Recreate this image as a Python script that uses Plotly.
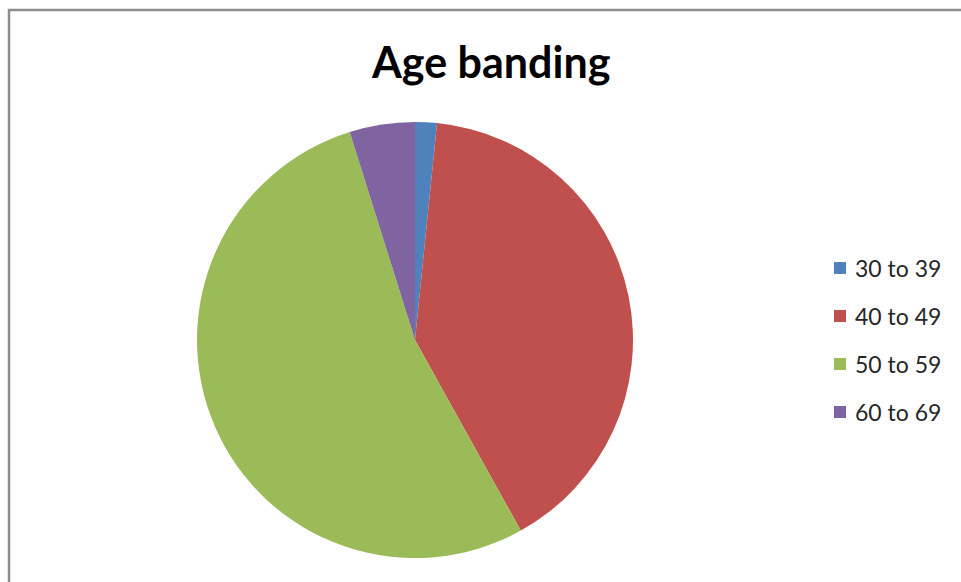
import plotly.graph_objects as go

# Age band counts
bands = ["30 to 39", "40 to 49", "50 to 59", "60 to 69"]
counts = [1, 25, 33, 3]
colors = ["#4F81BD", "#C0504D", "#9BBB59", "#8064A2"]

W, H = 961, 582

fig = go.Figure()
fig.add_trace(go.Pie(
    labels=bands,
    values=counts,
    sort=False,
    direction="clockwise",
    rotation=0,
    marker=dict(colors=colors, line=dict(width=0)),
    textinfo="none",
    hoverinfo="label+value+percent",
    showlegend=False,
    domain=dict(x=[197 / W, 633 / W], y=[(H - 558) / H, (H - 122) / H]),
))

# Legend drawn as colour squares with labels
shapes = []
annotations = []
row0, gap = 268, 48
for i, (lab, col) in enumerate(zip(bands, colors)):
    yc = row0 + i * gap
    shapes.append(dict(type="rect", xref="paper", yref="paper",
                       x0=834 / W, x1=846 / W,
                       y0=(H - yc - 6) / H, y1=(H - yc + 6) / H,
                       fillcolor=col, line=dict(width=0)))
    annotations.append(dict(text=lab, xref="paper", yref="paper",
                            x=853 / W, y=(H - yc) / H, xanchor="left", yanchor="middle",
                            showarrow=False,
                            font=dict(family="Lato", size=23, color="#262626")))

# Chart frame
shapes.append(dict(type="rect", xref="paper", yref="paper",
                   x0=9 / W, x1=1.05, y0=-0.05, y1=(H - 10) / H,
                   line=dict(color="#8C8C8C", width=2.5), fillcolor="rgba(0,0,0,0)"))

annotations.append(dict(text="<b>Age banding</b>", xref="paper", yref="paper",
                        x=490 / W, y=(H - 62) / H, xanchor="center", yanchor="middle",
                        showarrow=False,
                        font=dict(family="Lato", size=43, color="#000000")))

fig.update_layout(
    width=W, height=H,
    margin=dict(l=0, r=0, t=0, b=0),
    paper_bgcolor="white",
    plot_bgcolor="white",
    shapes=shapes,
    annotations=annotations,
)

fig.write_html("out.html")
